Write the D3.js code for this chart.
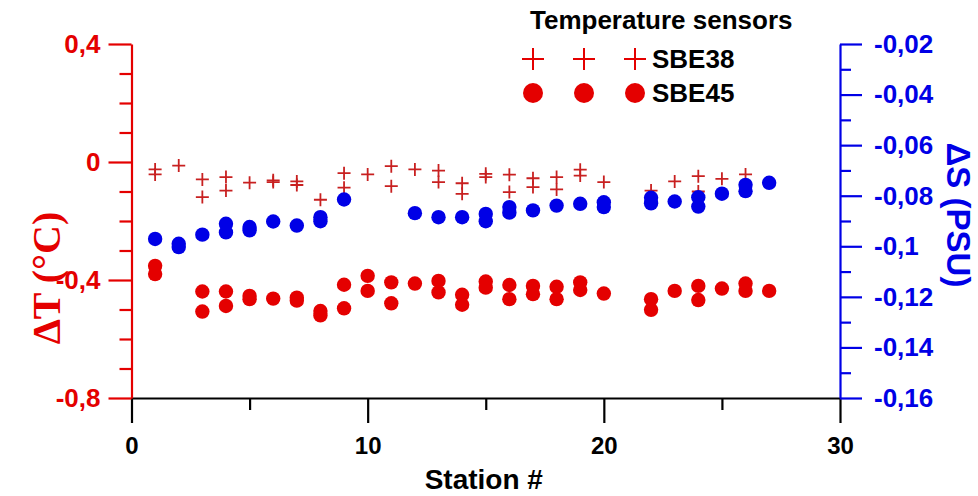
<!DOCTYPE html>
<html>
<head>
<meta charset="utf-8">
<script src="https://cdn.jsdelivr.net/npm/d3@7"></script>
<style>
  html, body { margin: 0; padding: 0; background: #fff; }
  svg { display: block; }
  text { font-family: "Liberation Sans", Arial, sans-serif; font-weight: bold; }
</style>
</head>
<body>
<svg id="chart" width="978" height="496"></svg>
<script>
// Temperature offsets (°C) per station, SBE38 sensor: [station, ΔT]
const sbe38 = [
  [1, -0.025], [1, -0.042], [2, -0.012], [3, -0.059], [3, -0.119],
  [4, -0.051], [4, -0.097], [5, -0.070], [6, -0.062], [6, -0.068],
  [7, -0.066], [7, -0.078], [8, -0.128], [9, -0.038], [9, -0.087],
  [10, -0.042], [11, -0.014], [11, -0.082], [12, -0.025], [13, -0.029],
  [13, -0.068], [14, -0.072], [14, -0.108], [15, -0.040], [15, -0.051],
  [16, -0.043], [16, -0.102], [17, -0.055], [17, -0.085], [18, -0.051],
  [18, -0.093], [19, -0.026], [19, -0.046], [20, -0.068], [22, -0.097],
  [23, -0.066], [24, -0.048], [24, -0.100], [25, -0.057], [26, -0.042]
];

// Temperature offsets (°C) per station, SBE45 sensor: [station, ΔT]
const sbe45 = [
  [1, -0.352], [1, -0.380], [3, -0.439], [3, -0.507], [4, -0.439],
  [4, -0.488], [5, -0.454], [5, -0.465], [6, -0.463], [7, -0.460],
  [7, -0.470], [8, -0.505], [8, -0.520], [9, -0.416], [9, -0.496],
  [10, -0.386], [10, -0.437], [11, -0.408], [11, -0.479], [12, -0.412],
  [13, -0.403], [13, -0.442], [14, -0.450], [14, -0.484], [15, -0.405],
  [15, -0.426], [16, -0.417], [16, -0.465], [17, -0.420], [17, -0.448],
  [18, -0.423], [18, -0.465], [19, -0.408], [19, -0.434], [20, -0.446],
  [22, -0.465], [22, -0.501], [23, -0.437], [24, -0.420], [24, -0.468],
  [25, -0.429], [26, -0.412], [26, -0.437], [27, -0.437]
];

// Salinity offsets (PSU) per station: [station, ΔS]
const salinity = [
  [1, -0.0971], [2, -0.0990], [2, -0.1003], [3, -0.0954], [4, -0.0911],
  [4, -0.0945], [5, -0.0924], [5, -0.0937], [6, -0.0902], [7, -0.0918],
  [8, -0.0885], [8, -0.0901], [9, -0.0815], [12, -0.0869], [13, -0.0885],
  [14, -0.0885], [15, -0.0872], [15, -0.0901], [16, -0.0845], [16, -0.0867],
  [17, -0.0858], [18, -0.0839], [19, -0.0832], [20, -0.0826], [20, -0.0845],
  [22, -0.0808], [22, -0.0830], [23, -0.0823], [24, -0.0806], [24, -0.0843],
  [25, -0.0792], [26, -0.0757], [26, -0.0782], [27, -0.0749]
];

// Axis tick values and labels
const xTicks = [0, 10, 20, 30];
const xMinorTicks = [5, 15, 25];
const tTicks = [0.4, 0, -0.4, -0.8];
const tTickLabels = ["0,4", "0", "-0,4", "-0,8"];
const tMinorTicks = [0.3, 0.2, 0.1, -0.1, -0.2, -0.3, -0.5, -0.6, -0.7];
const sTicks = [-0.02, -0.04, -0.06, -0.08, -0.1, -0.12, -0.14, -0.16];
const sTickLabels = ["-0,02", "-0,04", "-0,06", "-0,08", "-0,1", "-0,12", "-0,14", "-0,16"];
const sMinorTicks = [-0.03, -0.05, -0.07, -0.09, -0.11, -0.13, -0.15];

const RED = "#e40000";
const CROSS = "#c82020";
const BLUE = "#0000e6";

const svg = d3.select("#chart");

const plotLeft = 131.5, plotRight = 840, plotTop = 44, plotBottom = 398;

const x = d3.scaleLinear().domain([0, 30]).range([plotLeft, plotRight]);
const yT = d3.scaleLinear().domain([-0.8, 0.4]).range([plotBottom, plotTop]);
const yS = d3.scaleLinear().domain([-0.16, -0.02]).range([plotBottom, plotTop]);

// ---- Axes ----
function styleAxis(g, color, size) {
  g.selectAll("path.domain").attr("stroke", color).attr("stroke-width", 2.2);
  g.selectAll(".tick line").attr("stroke", color).attr("stroke-width", 2.2);
  g.selectAll(".tick text").attr("fill", color).style("font-size", size + "px");
}

// Bottom axis
const gx = svg.append("g").attr("transform", `translate(0,${plotBottom})`)
  .call(d3.axisBottom(x).tickValues(xTicks).tickFormat(d3.format("d"))
    .tickSizeInner(25).tickSizeOuter(0).tickPadding(14));
styleAxis(gx, "#000", 24);
svg.append("g").attr("transform", `translate(0,${plotBottom})`)
  .call(d3.axisBottom(x).tickValues(xMinorTicks).tickFormat("").tickSizeInner(12).tickSizeOuter(0))
  .call(g => g.select("path.domain").remove())
  .call(g => styleAxis(g, "#000", 24));

// Left axis (ΔT)
const gl = svg.append("g").attr("transform", `translate(${plotLeft},0)`)
  .call(d3.axisLeft(yT).tickValues(tTicks).tickFormat((d, i) => tTickLabels[i])
    .tickSizeInner(23).tickSizeOuter(0).tickPadding(8));
styleAxis(gl, RED, 26);
svg.append("g").attr("transform", `translate(${plotLeft},0)`)
  .call(d3.axisLeft(yT).tickValues(tMinorTicks).tickFormat("").tickSizeInner(12).tickSizeOuter(0))
  .call(g => g.select("path.domain").remove())
  .call(g => styleAxis(g, RED, 26));

// Right axis (ΔS)
const gr = svg.append("g").attr("transform", `translate(${plotRight},0)`)
  .call(d3.axisRight(yS).tickValues(sTicks).tickFormat((d, i) => sTickLabels[i])
    .tickSizeInner(22).tickSizeOuter(0).tickPadding(12));
styleAxis(gr, BLUE, 26);
svg.append("g").attr("transform", `translate(${plotRight},0)`)
  .call(d3.axisRight(yS).tickValues(sMinorTicks).tickFormat("").tickSizeInner(11).tickSizeOuter(0))
  .call(g => g.select("path.domain").remove())
  .call(g => styleAxis(g, BLUE, 26));

// Axis titles
svg.append("text")
  .attr("transform", `translate(46,${(plotTop + plotBottom) / 2 + 57}) rotate(-90)`)
  .attr("text-anchor", "middle").attr("dominant-baseline", "central")
  .style("font-family", "'Liberation Serif', 'Times New Roman', serif")
  .style("font-weight", "bold")
  .style("font-size", "40px").attr("fill", RED)
  .text("ΔT (°C)");

svg.append("text")
  .attr("transform", `translate(958,${(plotTop + plotBottom) / 2 - 6}) rotate(90)`)
  .attr("text-anchor", "middle").attr("dominant-baseline", "central")
  .style("font-size", "33px").attr("fill", BLUE)
  .text("ΔS (PSU)");

svg.append("text")
  .attr("x", (plotLeft + plotRight) / 2 - 2).attr("y", 489)
  .attr("text-anchor", "middle")
  .style("font-size", "28px").attr("fill", "#000")
  .text("Station #");

// ---- Data marks ----
const crossPath = s => `M${-s},0H${s}M0,${-s}V${s}`;

svg.append("g").selectAll("path").data(sbe38).join("path")
  .attr("transform", d => `translate(${x(d[0])},${yT(d[1])})`)
  .attr("d", crossPath(6.5))
  .attr("stroke", CROSS).attr("stroke-width", 1.8).attr("fill", "none");

svg.append("g").selectAll("circle").data(sbe45).join("circle")
  .attr("cx", d => x(d[0])).attr("cy", d => yT(d[1])).attr("r", 7.2)
  .attr("fill", RED);

svg.append("g").selectAll("circle").data(salinity).join("circle")
  .attr("cx", d => x(d[0])).attr("cy", d => yS(d[1])).attr("r", 7.2)
  .attr("fill", BLUE);

// ---- Legend ----
const legend = svg.append("g");
legend.append("text").attr("x", 530).attr("y", 29)
  .style("font-size", "26px").attr("fill", "#000").text("Temperature sensors");
const legendX = [533, 584, 635];
legend.selectAll("path").data(legendX).join("path")
  .attr("transform", d => `translate(${d},59)`)
  .attr("d", crossPath(11))
  .attr("stroke", RED).attr("stroke-width", 2).attr("fill", "none");
legend.selectAll("circle").data(legendX).join("circle")
  .attr("cx", d => d).attr("cy", 93).attr("r", 10).attr("fill", RED);
legend.append("text").attr("x", 652).attr("y", 68)
  .style("font-size", "26px").attr("fill", "#000").text("SBE38");
legend.append("text").attr("x", 652).attr("y", 102)
  .style("font-size", "26px").attr("fill", "#000").text("SBE45");
</script>
</body>
</html>
